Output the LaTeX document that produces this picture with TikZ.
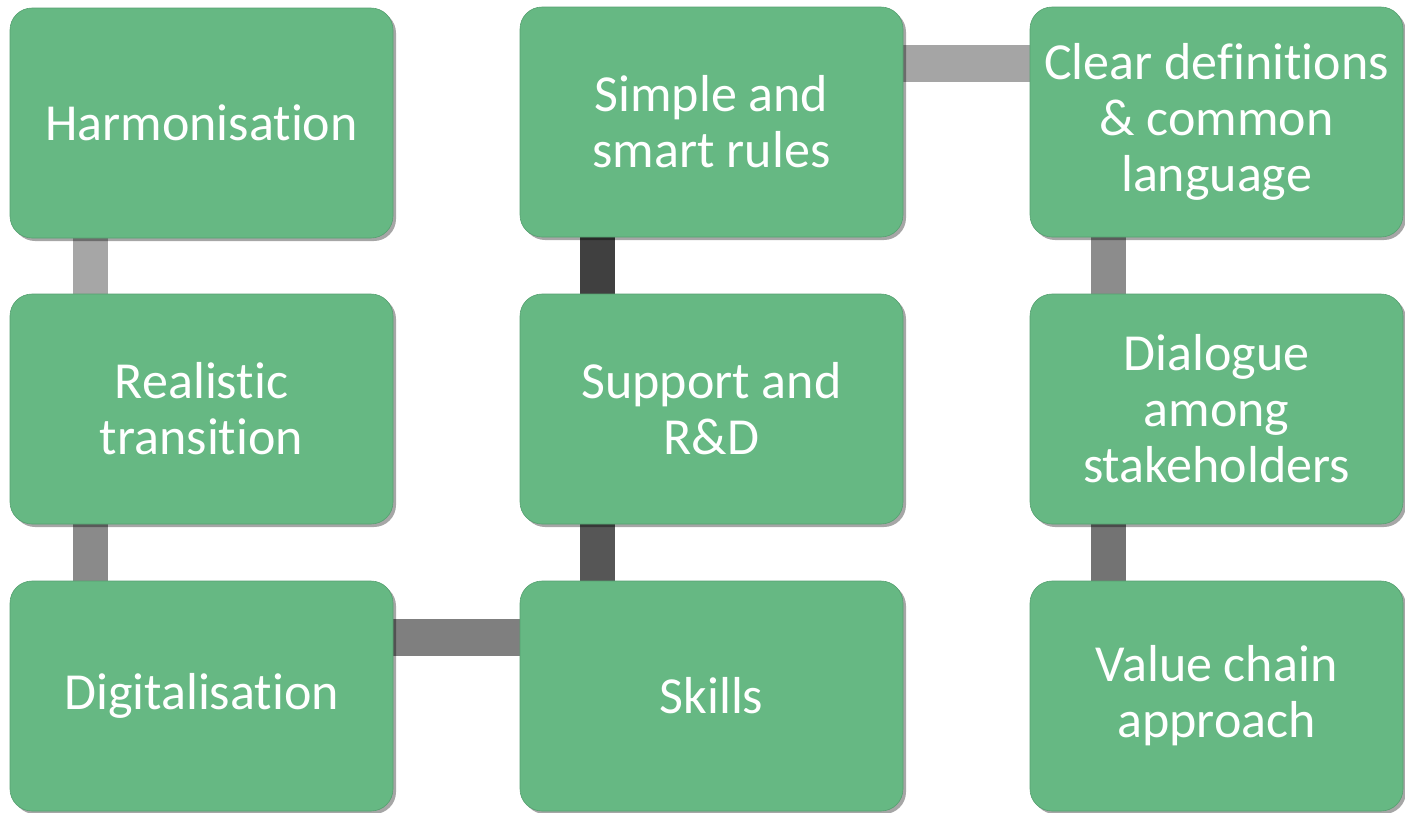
\documentclass[tikz,border=0pt]{standalone}
\usepackage{fontspec}
\setmainfont{Carlito}[Ligatures=NoCommon]
\usetikzlibrary{shadows,backgrounds}
\definecolor{boxgreen}{HTML}{66B883}
\definecolor{boxedge}{HTML}{55A070}
\definecolor{barA}{HTML}{A6A6A6}
\definecolor{barB}{HTML}{8A8A8A}
\definecolor{barC}{HTML}{404040}
\definecolor{barD}{HTML}{565656}
\definecolor{barE}{HTML}{8C8C8C}
\definecolor{barF}{HTML}{737373}
\definecolor{barG}{HTML}{A5A5A5}
\definecolor{barH}{HTML}{7F7F7F}
\tikzset{
  greenbox/.style={rectangle, rounded corners=22pt, fill=boxgreen, draw=boxedge, line width=0.6pt,
    minimum width=383pt, minimum height=230pt, inner sep=0pt, align=center,
    text=white, font=\fontsize{52}{56}\selectfont,
    drop shadow={shadow xshift=3pt, shadow yshift=-3pt, opacity=0.35, fill=black}},
  vbar/.style={line width=35pt, preaction={draw=black, opacity=0.3, transform canvas={xshift=3pt}}},
  hbar/.style={line width=37pt, preaction={draw=black, opacity=0.3, transform canvas={yshift=-3pt}}}
}
\begin{document}
\begin{tikzpicture}[x=1pt,y=-1pt]
\useasboundingbox (0,0) rectangle (1405,812);
% column 1
\node[greenbox] (harm) at (201.5,123) {Harmonisation};
\node[greenbox] (real) at (201.5,409) {Realistic\\transition};
\node[greenbox] (digi) at (201.5,696) {Digitalisation};
% column 2
\node[greenbox] (simp) at (711.5,122) {Simple and\\smart rules};
\node[greenbox] (supp) at (711.5,409) {Support and\\R\&D};
\node[greenbox] (skil) at (711.5,696) {Skills};
% column 3
\node[greenbox, minimum width=373pt] (clear) at (1216.5,122) {Clear definitions\\\& common\\language};
\node[greenbox, minimum width=373pt] (dial) at (1216.5,409) {Dialogue\\among\\stakeholders};
\node[greenbox, minimum width=373pt] (valu) at (1216.5,696) {Value chain\\approach};
\begin{scope}[on background layer]
\draw[vbar, draw=barA] ([xshift=-111.5pt]harm.south) -- ([xshift=-111.5pt]real.north);
\draw[vbar, draw=barB] ([xshift=-111.5pt]real.south) -- ([xshift=-111.5pt]digi.north);
\draw[vbar, draw=barC] ([xshift=-114pt]simp.south) -- ([xshift=-114pt]supp.north);
\draw[vbar, draw=barD] ([xshift=-114pt]supp.south) -- ([xshift=-114pt]skil.north);
\draw[vbar, draw=barE] ([xshift=-108.5pt]clear.south) -- ([xshift=-108.5pt]dial.north);
\draw[vbar, draw=barF] ([xshift=-108.5pt]dial.south) -- ([xshift=-108.5pt]valu.north);
\draw[hbar, draw=barG] ([yshift=58.5pt]simp.east) -- ([yshift=58.5pt]clear.west);
\draw[hbar, draw=barH] ([yshift=58.5pt]digi.east) -- ([yshift=58.5pt]skil.west);
\end{scope}
\end{tikzpicture}
\end{document}
